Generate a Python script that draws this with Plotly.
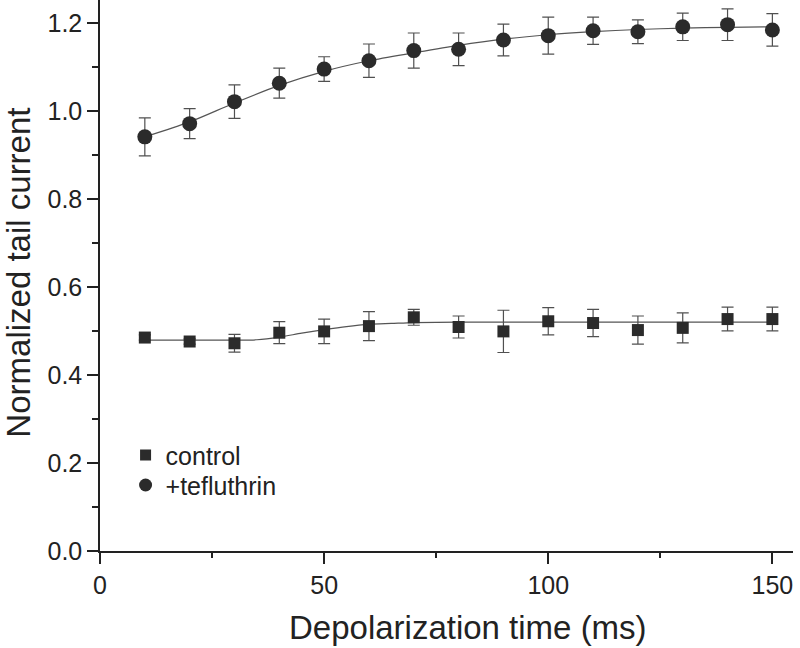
import plotly.graph_objects as go

# Depolarization time (ms)
time_ms = [10, 20, 30, 40, 50, 60, 70, 80, 90, 100, 110, 120, 130, 140, 150]

# +tefluthrin (circles)
teflu_mean = [0.941, 0.971, 1.021, 1.063, 1.095, 1.114, 1.137, 1.140, 1.161, 1.171, 1.182, 1.180, 1.191, 1.196, 1.184]
teflu_err = [0.043, 0.034, 0.038, 0.034, 0.028, 0.038, 0.040, 0.037, 0.036, 0.042, 0.031, 0.027, 0.031, 0.036, 0.037]

# control (squares)
control_mean = [0.485, 0.476, 0.472, 0.496, 0.499, 0.511, 0.531, 0.509, 0.499, 0.522, 0.518, 0.502, 0.507, 0.527, 0.527]
control_err = [0.006, 0.006, 0.020, 0.025, 0.028, 0.033, 0.018, 0.025, 0.048, 0.031, 0.031, 0.032, 0.034, 0.027, 0.027]

# fitted curves
teflu_fit_t = [10, 20, 30, 40, 50, 60, 70, 80, 90, 100, 110, 120, 130, 140, 150]
teflu_fit_v = [0.941, 0.975, 1.018, 1.058, 1.090, 1.114, 1.132, 1.149, 1.163, 1.173, 1.180, 1.185, 1.188, 1.190, 1.191]

control_fit_t = [10, 20, 30, 35, 40, 45, 50, 55, 60, 65, 70, 80, 100, 120, 150]
control_fit_v = [0.479, 0.479, 0.479, 0.480, 0.486, 0.495, 0.503, 0.510, 0.515, 0.517, 0.519, 0.520, 0.520, 0.520, 0.520]

x_ticks = [0, 50, 100, 150]
y_ticks = [0.0, 0.2, 0.4, 0.6, 0.8, 1.0, 1.2]

FONT = "Liberation Sans, Arial, Helvetica, sans-serif"
MARK = "#2b2b2b"
LINE = "#555555"
ERR = "#505050"
AX = "#222222"

fig = go.Figure()

fig.add_trace(go.Scatter(x=control_fit_t, y=control_fit_v, mode="lines",
                         line=dict(color=LINE, width=1.2, shape="spline", smoothing=0.8),
                         showlegend=False, hoverinfo="skip"))
fig.add_trace(go.Scatter(x=teflu_fit_t, y=teflu_fit_v, mode="lines",
                         line=dict(color=LINE, width=1.2, shape="spline", smoothing=0.8),
                         showlegend=False, hoverinfo="skip"))

fig.add_trace(go.Scatter(x=time_ms, y=control_mean, mode="markers",
                         marker=dict(symbol="square", size=12, color=MARK),
                         error_y=dict(type="data", array=control_err, color=ERR, thickness=1.2, width=6),
                         showlegend=False))
fig.add_trace(go.Scatter(x=time_ms, y=teflu_mean, mode="markers",
                         marker=dict(symbol="circle", size=15, color=MARK),
                         error_y=dict(type="data", array=teflu_err, color=ERR, thickness=1.2, width=6),
                         showlegend=False))

# legend entries (two separate legends for exact row spacing)
fig.add_trace(go.Scatter(x=[None], y=[None], mode="markers", name="control", legend="legend",
                         marker=dict(symbol="square", size=11, color=MARK)))
fig.add_trace(go.Scatter(x=[None], y=[None], mode="markers", name="+tefluthrin", legend="legend2",
                         marker=dict(symbol="circle", size=13, color=MARK)))

leg_common = dict(xanchor="left", yanchor="middle", bgcolor="rgba(0,0,0,0)",
                  font=dict(size=25, family=FONT, color=AX), itemwidth=30)

fig.update_layout(
    width=800, height=648,
    margin=dict(l=100, r=7, t=0, b=97),
    paper_bgcolor="white", plot_bgcolor="white",
    font=dict(family=FONT, color=AX, size=25),
    showlegend=True,
    legend=dict(x=0.0369, y=0.1738, **leg_common),
    legend2=dict(x=0.0369, y=0.1193, **leg_common),
    annotations=[
        dict(text="Depolarization time (ms)", xref="paper", yref="paper",
             x=0.531, y=-0.1386, xanchor="center", yanchor="middle", showarrow=False,
             font=dict(size=33, family=FONT, color=AX)),
        dict(text="Normalized tail current", xref="paper", yref="paper",
             x=-0.1177, y=0.506, xanchor="center", yanchor="middle", showarrow=False,
             textangle=-90, font=dict(size=33, family=FONT, color=AX)),
    ],
)

fig.update_xaxes(
    range=[0, 154.6], showline=True, linecolor=AX, linewidth=1.5, automargin=False,
    showgrid=False, zeroline=False,
    tickmode="array", tickvals=x_ticks, ticktext=[str(v) for v in x_ticks],
    ticks="outside", ticklen=11, tickwidth=1.5, tickcolor=AX,
    minor=dict(dtick=25, tick0=0, ticks="outside", ticklen=5, tickwidth=1.5, tickcolor=AX),
    tickfont=dict(size=25, family=FONT, color=AX),
)
fig.update_yaxes(
    range=[0, 1.252], showline=True, linecolor=AX, linewidth=1.5, automargin=False,
    showgrid=False, zeroline=False,
    tickmode="array", tickvals=y_ticks, ticktext=[f"{v:.1f}" for v in y_ticks],
    ticks="outside", ticklen=11, tickwidth=1.5, tickcolor=AX,
    minor=dict(dtick=0.1, tick0=0, ticks="outside", ticklen=6, tickwidth=1.5, tickcolor=AX),
    tickfont=dict(size=25, family=FONT, color=AX),
)

fig.write_html("out.html", config={"displayModeBar": False},
               post_script="document.body.style.margin='0';document.body.style.overflow='hidden';")
